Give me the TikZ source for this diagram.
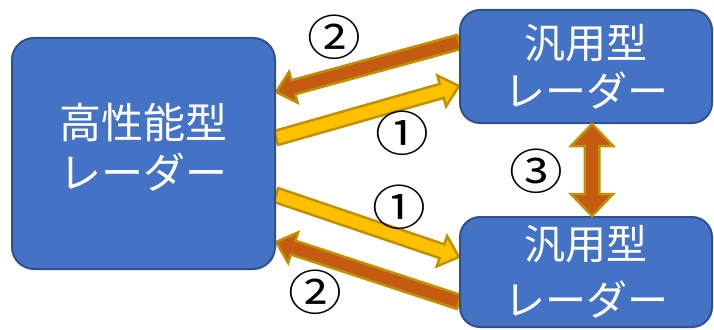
\documentclass[tikz,border=0pt]{standalone}
\usepackage{fontspec}
\setmainfont{Noto Sans CJK JP}
\newfontfamily\numfont[FakeStretch=1.12]{Noto Sans CJK JP}
\usetikzlibrary{calc,backgrounds}
\definecolor{boxfill}{HTML}{4472C4}
\definecolor{boxline}{HTML}{2F528F}
\definecolor{goldline}{HTML}{BF9000}
\definecolor{yel}{HTML}{FFC000}
\definecolor{org}{HTML}{C55A11}
\tikzset{
  radar/.style={draw=boxline, line width=2pt, fill=boxfill, rounded corners=22pt,
    text=white, align=center, inner sep=0pt},
  num/.style={font=\numfont\fontsize{48}{48}\selectfont, inner sep=0pt},
  arrowline/.style={draw=goldline, line width=2.5pt, line join=miter},
}
% #1 tail, #2 tip, #3 fill, #4 half shaft, #5 half head
\newcommand{\fatarrow}[5]{%
  \coordinate (fa-h) at ($(#2)!18pt!(#1)$);
  \filldraw[arrowline, fill=#3]
    ($(#1)!#4!90:(#2)$) -- ($(fa-h)!#4!90:(#2)$) -- ($(fa-h)!#5!90:(#2)$)
    -- (#2) -- ($(fa-h)!#5!-90:(#2)$) -- ($(fa-h)!#4!-90:(#2)$)
    -- ($(#1)!#4!-90:(#2)$) -- cycle;
}
\newcommand{\fatdarrow}[5]{%
  \coordinate (fd-a) at ($(#1)!22pt!(#2)$);
  \coordinate (fd-b) at ($(#2)!22pt!(#1)$);
  \filldraw[arrowline, fill=#3]
    (#1) -- ($(fd-a)!#5!90:(#2)$) -- ($(fd-a)!#4!90:(#2)$)
    -- ($(fd-b)!#4!90:(#2)$) -- ($(fd-b)!#5!90:(#2)$) -- (#2)
    -- ($(fd-b)!#5!-90:(#2)$) -- ($(fd-b)!#4!-90:(#2)$)
    -- ($(fd-a)!#4!-90:(#2)$) -- ($(fd-a)!#5!-90:(#2)$) -- cycle;
}
\begin{document}
\begin{tikzpicture}[x=1pt,y=-1pt]
\useasboundingbox (0,0) rectangle (714,329);
\node[radar, minimum width=263pt, minimum height=231pt,
  font=\fontsize{42}{50}\selectfont] (big) at (143.5,153.5)
  {高性能型\\レーダー\rule[-15pt]{0pt}{1pt}};
\node[radar, minimum width=252pt, minimum height=113pt, rounded corners=20pt,
  font=\fontsize{41}{48}\selectfont] (tr) at (586,66.5) {汎用型\\レーダー};
\node[radar, minimum width=252pt, minimum height=110pt, rounded corners=20pt,
  font=\fontsize{41}{56}\selectfont] (br) at (586,272) {汎用型\\レーダー};

\coordinate (t1s) at (big.east |- 0,138);
\coordinate (t1e) at (tr.west |- 0,86);
\coordinate (t2s) at (tr.west |- 0,42);
\coordinate (t2e) at (big.east |- 0,92);
\coordinate (b1s) at (big.east |- 0,195);
\coordinate (b1e) at (br.west |- 0,257);
\coordinate (b2s) at (br.west |- 0,302);
\coordinate (b2e) at (big.east |- 0,242);
\coordinate (v1) at (tr.south -| 592,0);
\coordinate (v2) at (br.north -| 592,0);

\begin{scope}[on background layer]
\fatarrow{t2s}{t2e}{org}{7.25pt}{16pt}
\fatarrow{t1s}{t1e}{yel}{7.25pt}{16pt}
\fatarrow{b1s}{b1e}{yel}{7.25pt}{16pt}
\fatarrow{b2s}{b2e}{org}{7.25pt}{16pt}
\end{scope}
\fatdarrow{v1}{v2}{org}{7.25pt}{21pt}

\node[num] (n2a) at (334,37) {②};
\node[num] (n1a) at (402,133) {①};
\node[num] (n1b) at (399,207) {①};
\node[num] (n2b) at (315,292) {②};
\node[num] (n3) at (536,171) {③};
\end{tikzpicture}
\end{document}
